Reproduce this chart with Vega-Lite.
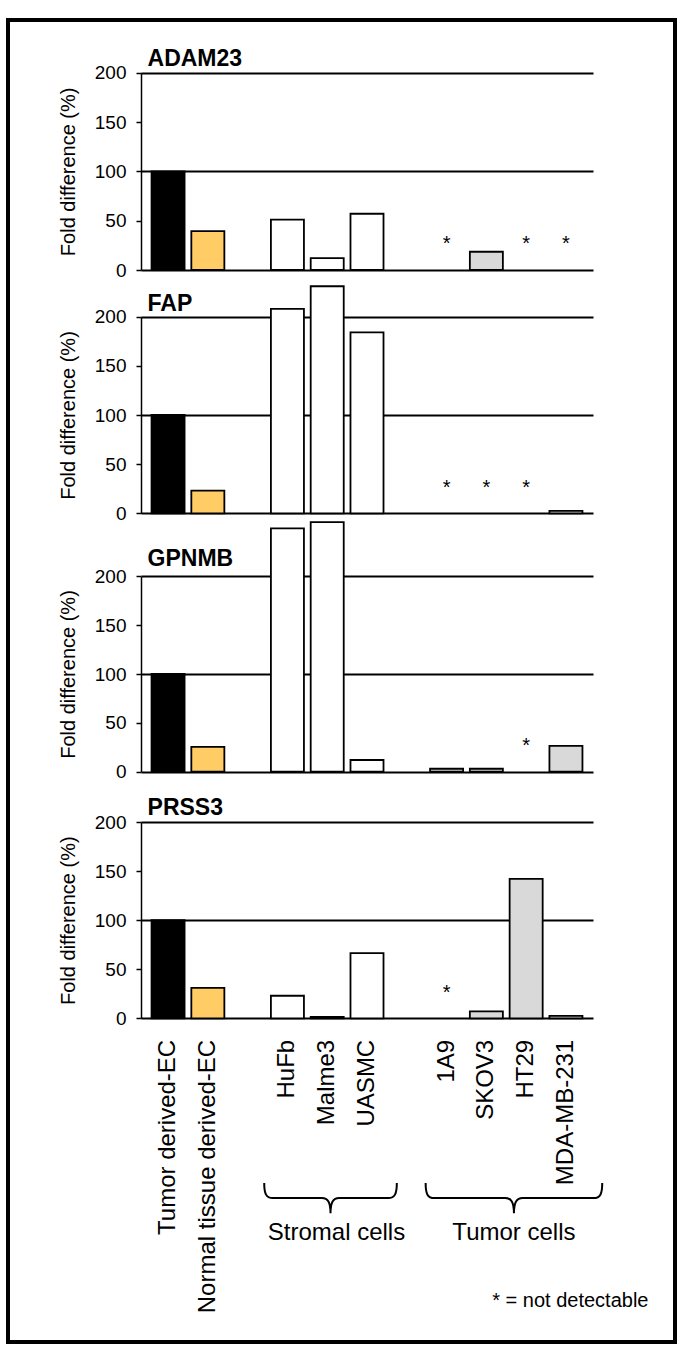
{
  "$schema": "https://vega.github.io/schema/vega-lite/v6.json",
  "width": 667,
  "height": 1322,
  "autosize": {"type": "none"},
  "padding": {"left": 8, "top": 20, "right": 10, "bottom": 21},
  "config": {
    "font": "Liberation Sans",
    "view": {"stroke": "black", "strokeWidth": 4},
    "axis": {
      "labelColor": "black",
      "titleColor": "black",
      "domainColor": "black",
      "tickColor": "black",
      "gridColor": "black",
      "labelFont": "Liberation Sans",
      "titleFont": "Liberation Sans"
    }
  },
  "data": {
    "values": [
      {"gene": "ADAM23", "cell": "Tumor derived-EC", "kind": "tumor EC", "value": 100},
      {"gene": "ADAM23", "cell": "Normal tissue derived-EC", "kind": "normal EC", "value": 39.5},
      {"gene": "ADAM23", "cell": "HuFb", "kind": "stromal", "value": 51},
      {"gene": "ADAM23", "cell": "Malme3", "kind": "stromal", "value": 12},
      {"gene": "ADAM23", "cell": "UASMC", "kind": "stromal", "value": 57},
      {"gene": "ADAM23", "cell": "1A9", "kind": "tumor", "value": null},
      {"gene": "ADAM23", "cell": "SKOV3", "kind": "tumor", "value": 18.5},
      {"gene": "ADAM23", "cell": "HT29", "kind": "tumor", "value": null},
      {"gene": "ADAM23", "cell": "MDA-MB-231", "kind": "tumor", "value": null},
      {"gene": "FAP", "cell": "Tumor derived-EC", "kind": "tumor EC", "value": 100},
      {"gene": "FAP", "cell": "Normal tissue derived-EC", "kind": "normal EC", "value": 23},
      {"gene": "FAP", "cell": "HuFb", "kind": "stromal", "value": 208},
      {"gene": "FAP", "cell": "Malme3", "kind": "stromal", "value": 231},
      {"gene": "FAP", "cell": "UASMC", "kind": "stromal", "value": 184},
      {"gene": "FAP", "cell": "1A9", "kind": "tumor", "value": null},
      {"gene": "FAP", "cell": "SKOV3", "kind": "tumor", "value": null},
      {"gene": "FAP", "cell": "HT29", "kind": "tumor", "value": null},
      {"gene": "FAP", "cell": "MDA-MB-231", "kind": "tumor", "value": 2.5},
      {"gene": "GPNMB", "cell": "Tumor derived-EC", "kind": "tumor EC", "value": 100},
      {"gene": "GPNMB", "cell": "Normal tissue derived-EC", "kind": "normal EC", "value": 25.5},
      {"gene": "GPNMB", "cell": "HuFb", "kind": "stromal", "value": 249},
      {"gene": "GPNMB", "cell": "Malme3", "kind": "stromal", "value": 255.5},
      {"gene": "GPNMB", "cell": "UASMC", "kind": "stromal", "value": 12},
      {"gene": "GPNMB", "cell": "1A9", "kind": "tumor", "value": 3},
      {"gene": "GPNMB", "cell": "SKOV3", "kind": "tumor", "value": 3},
      {"gene": "GPNMB", "cell": "HT29", "kind": "tumor", "value": null},
      {"gene": "GPNMB", "cell": "MDA-MB-231", "kind": "tumor", "value": 26.5},
      {"gene": "PRSS3", "cell": "Tumor derived-EC", "kind": "tumor EC", "value": 100},
      {"gene": "PRSS3", "cell": "Normal tissue derived-EC", "kind": "normal EC", "value": 31},
      {"gene": "PRSS3", "cell": "HuFb", "kind": "stromal", "value": 23},
      {"gene": "PRSS3", "cell": "Malme3", "kind": "stromal", "value": 1.5},
      {"gene": "PRSS3", "cell": "UASMC", "kind": "stromal", "value": 66.5},
      {"gene": "PRSS3", "cell": "1A9", "kind": "tumor", "value": null},
      {"gene": "PRSS3", "cell": "SKOV3", "kind": "tumor", "value": 7},
      {"gene": "PRSS3", "cell": "HT29", "kind": "tumor", "value": 142},
      {"gene": "PRSS3", "cell": "MDA-MB-231", "kind": "tumor", "value": 2.5}
    ]
  },
  "encoding": {
    "x": {
      "field": "cell",
      "type": "nominal",
      "sort": null,
      "scale": {
        "type": "band",
        "domain": ["Tumor derived-EC", "Normal tissue derived-EC", " ", "HuFb", "Malme3", "UASMC", "  ", "1A9", "SKOV3", "HT29", "MDA-MB-231"],
        "range": [133, 585],
        "paddingInner": 0.17,
        "paddingOuter": 0.265
      },
      "axis": {
        "title": null,
        "orient": "bottom",
        "offset": -323.7,
        "domain": false,
        "ticks": false,
        "tickSize": 0,
        "labelAngle": 270,
        "labelAlign": "right",
        "labelBaseline": "middle",
        "labelFontSize": 24,
        "labelPadding": 21,
        "labelLimit": 0,
        "labelOverlap": false,
        "grid": false
      }
    }
  },
  "layer": [
    {
      "transform": [{"filter": "datum.gene === 'ADAM23'"}],
      "layer": [
        {
          "transform": [{"filter": "datum.value != null"}],
          "mark": {"type": "bar", "stroke": "black", "strokeWidth": 1.8},
          "encoding": {
            "y": {
              "field": "value", "type": "quantitative",
              "scale": {"domain": [0, 200], "range": [250, 52.7], "nice": false},
              "axis": {"orient": "left", "offset": -133, "grid": true, "values": [0, 50, 100, 150, 200], "title": "Fold difference (%)", "titleFontSize": 20, "titleFontWeight": "normal", "titlePadding": 16, "labelFontSize": 19, "labelPadding": 10, "tickSize": 5, "tickWidth": 1.5, "domainWidth": 1.5, "gridWidth": 2, "gridOpacity": {"condition": {"test": "datum.value % 100 === 0", "value": 1}, "value": 0}}
            },
            "color": {"field": "kind", "type": "nominal", "scale": {"domain": ["tumor EC", "normal EC", "stromal", "tumor"], "range": ["#000000", "#FFCC66", "#FFFFFF", "#D9D9D9"]}, "legend": null}
          }
        },
        {
          "transform": [{"filter": "datum.value == null"}],
          "mark": {"type": "text", "text": "*", "fontSize": 20, "baseline": "alphabetic"},
          "encoding": {"y": {"datum": 20, "type": "quantitative"}}
        },
        {
          "transform": [{"filter": "datum.cell === 'Tumor derived-EC'"}],
          "mark": {"type": "text", "align": "left", "baseline": "alphabetic", "fontWeight": "bold", "fontSize": 23, "dx": -4, "dy": -7},
          "encoding": {
            "x": {"field": "cell", "type": "nominal", "bandPosition": 0},
            "y": {"datum": 200, "type": "quantitative"},
            "text": {"field": "gene"}
          }
        }
      ]
    },
    {
      "transform": [{"filter": "datum.gene === 'FAP'"}],
      "layer": [
        {
          "transform": [{"filter": "datum.value != null"}],
          "mark": {"type": "bar", "stroke": "black", "strokeWidth": 1.8},
          "encoding": {
            "y": {
              "field": "value", "type": "quantitative",
              "scale": {"domain": [0, 200], "range": [493.3, 296.7], "nice": false},
              "axis": {"orient": "left", "offset": -133, "grid": true, "values": [0, 50, 100, 150, 200], "title": "Fold difference (%)", "titleFontSize": 20, "titleFontWeight": "normal", "titlePadding": 16, "labelFontSize": 19, "labelPadding": 10, "tickSize": 5, "tickWidth": 1.5, "domainWidth": 1.5, "gridWidth": 2, "gridOpacity": {"condition": {"test": "datum.value % 100 === 0", "value": 1}, "value": 0}}
            },
            "color": {"field": "kind", "type": "nominal", "scale": {"domain": ["tumor EC", "normal EC", "stromal", "tumor"], "range": ["#000000", "#FFCC66", "#FFFFFF", "#D9D9D9"]}, "legend": null}
          }
        },
        {
          "transform": [{"filter": "datum.value == null"}],
          "mark": {"type": "text", "text": "*", "fontSize": 20, "baseline": "alphabetic"},
          "encoding": {"y": {"datum": 20, "type": "quantitative"}}
        },
        {
          "transform": [{"filter": "datum.cell === 'Tumor derived-EC'"}],
          "mark": {"type": "text", "align": "left", "baseline": "alphabetic", "fontWeight": "bold", "fontSize": 23, "dx": -4, "dy": -6},
          "encoding": {
            "x": {"field": "cell", "type": "nominal", "bandPosition": 0},
            "y": {"datum": 200, "type": "quantitative"},
            "text": {"field": "gene"}
          }
        }
      ]
    },
    {
      "transform": [{"filter": "datum.gene === 'GPNMB'"}],
      "layer": [
        {
          "transform": [{"filter": "datum.value != null"}],
          "mark": {"type": "bar", "stroke": "black", "strokeWidth": 1.8},
          "encoding": {
            "y": {
              "field": "value", "type": "quantitative",
              "scale": {"domain": [0, 200], "range": [751.7, 556.3], "nice": false},
              "axis": {"orient": "left", "offset": -133, "grid": true, "values": [0, 50, 100, 150, 200], "title": "Fold difference (%)", "titleFontSize": 20, "titleFontWeight": "normal", "titlePadding": 16, "labelFontSize": 19, "labelPadding": 10, "tickSize": 5, "tickWidth": 1.5, "domainWidth": 1.5, "gridWidth": 2, "gridOpacity": {"condition": {"test": "datum.value % 100 === 0", "value": 1}, "value": 0}}
            },
            "color": {"field": "kind", "type": "nominal", "scale": {"domain": ["tumor EC", "normal EC", "stromal", "tumor"], "range": ["#000000", "#FFCC66", "#FFFFFF", "#D9D9D9"]}, "legend": null}
          }
        },
        {
          "transform": [{"filter": "datum.value == null"}],
          "mark": {"type": "text", "text": "*", "fontSize": 20, "baseline": "alphabetic"},
          "encoding": {"y": {"datum": 20, "type": "quantitative"}}
        },
        {
          "transform": [{"filter": "datum.cell === 'Tumor derived-EC'"}],
          "mark": {"type": "text", "align": "left", "baseline": "alphabetic", "fontWeight": "bold", "fontSize": 23, "dx": -4, "dy": -10},
          "encoding": {
            "x": {"field": "cell", "type": "nominal", "bandPosition": 0},
            "y": {"datum": 200, "type": "quantitative"},
            "text": {"field": "gene"}
          }
        }
      ]
    },
    {
      "transform": [{"filter": "datum.gene === 'PRSS3'"}],
      "layer": [
        {
          "transform": [{"filter": "datum.value != null"}],
          "mark": {"type": "bar", "stroke": "black", "strokeWidth": 1.8},
          "encoding": {
            "y": {
              "field": "value", "type": "quantitative",
              "scale": {"domain": [0, 200], "range": [998.3, 802], "nice": false},
              "axis": {"orient": "left", "offset": -133, "grid": true, "values": [0, 50, 100, 150, 200], "title": "Fold difference (%)", "titleFontSize": 20, "titleFontWeight": "normal", "titlePadding": 16, "labelFontSize": 19, "labelPadding": 10, "tickSize": 5, "tickWidth": 1.5, "domainWidth": 1.5, "gridWidth": 2, "gridOpacity": {"condition": {"test": "datum.value % 100 === 0", "value": 1}, "value": 0}}
            },
            "color": {"field": "kind", "type": "nominal", "scale": {"domain": ["tumor EC", "normal EC", "stromal", "tumor"], "range": ["#000000", "#FFCC66", "#FFFFFF", "#D9D9D9"]}, "legend": null}
          }
        },
        {
          "transform": [{"filter": "datum.value == null"}],
          "mark": {"type": "text", "text": "*", "fontSize": 20, "baseline": "alphabetic"},
          "encoding": {"y": {"datum": 20, "type": "quantitative"}}
        },
        {
          "transform": [{"filter": "datum.cell === 'Tumor derived-EC'"}],
          "mark": {"type": "text", "align": "left", "baseline": "alphabetic", "fontWeight": "bold", "fontSize": 23, "dx": -4, "dy": -7},
          "encoding": {
            "x": {"field": "cell", "type": "nominal", "bandPosition": 0},
            "y": {"datum": 200, "type": "quantitative"},
            "text": {"field": "gene"}
          }
        }
      ]
    },
    {
      "data": {
        "values": [
          {"row": "brace", "group": "Stromal cells", "anchor": "Malme3"},
          {"row": "label", "group": "Stromal cells", "anchor": "Malme3"},
          {"row": "brace", "group": "Tumor cells", "anchor": "HT29"},
          {"row": "label", "group": "Tumor cells", "anchor": "HT29"},
          {"row": "note", "group": "* = not detectable", "anchor": "MDA-MB-231"}
        ]
      },
      "layer": [
        {
          "transform": [{"filter": "datum.row === 'brace' && datum.group === 'Stromal cells'"}],
          "mark": {"type": "point", "filled": false, "opacity": 1, "stroke": "black", "strokeWidth": 2, "size": 17583, "shape": "M -1 -0.226 C -1 -0.06 -0.97 0 -0.87 0 L -0.13 0 C -0.04 0 0 0.06 0 0.23 C 0 0.06 0.04 0 0.13 0 L 0.87 0 C 0.97 0 1 -0.06 1 -0.226"},
          "encoding": {
            "x": {"field": "anchor", "type": "nominal", "bandPosition": 0.6},
            "y": {"field": "row", "type": "nominal", "scale": {"type": "point", "domain": ["brace", "label", "note"], "range": [1178, 1287], "padding": 0}, "axis": null}
          }
        },
        {
          "transform": [{"filter": "datum.row === 'brace' && datum.group === 'Tumor cells'"}],
          "mark": {"type": "point", "filled": false, "opacity": 1, "stroke": "black", "strokeWidth": 2, "size": 31188, "shape": "M -1 -0.17 C -1 -0.045 -0.978 0 -0.9 0 L -0.1 0 C -0.03 0 0 0.045 0 0.173 C 0 0.045 0.03 0 0.1 0 L 0.9 0 C 0.978 0 1 -0.045 1 -0.17"},
          "encoding": {
            "x": {"field": "anchor", "type": "nominal", "bandPosition": 0.13},
            "y": {"field": "row", "type": "nominal"}
          }
        },
        {
          "transform": [{"filter": "datum.row === 'label' && datum.group === 'Stromal cells'"}],
          "mark": {"type": "text", "fontSize": 24, "align": "center", "baseline": "alphabetic", "dy": -13},
          "encoding": {
            "x": {"field": "anchor", "type": "nominal", "bandPosition": 0.78},
            "y": {"field": "row", "type": "nominal"},
            "text": {"field": "group"}
          }
        },
        {
          "transform": [{"filter": "datum.row === 'label' && datum.group === 'Tumor cells'"}],
          "mark": {"type": "text", "fontSize": 24, "align": "center", "baseline": "alphabetic", "dy": -13},
          "encoding": {
            "x": {"field": "anchor", "type": "nominal", "bandPosition": 0.13},
            "y": {"field": "row", "type": "nominal"},
            "text": {"field": "group"}
          }
        },
        {
          "transform": [{"filter": "datum.row === 'note'"}],
          "mark": {"type": "text", "fontSize": 20, "align": "right", "baseline": "alphabetic", "dx": 66},
          "encoding": {
            "x": {"field": "anchor", "type": "nominal", "bandPosition": 1},
            "y": {"field": "row", "type": "nominal"},
            "text": {"field": "group"}
          }
        }
      ]
    }
  ],
  "resolve": {"scale": {"y": "independent"}, "axis": {"y": "independent"}}
}
